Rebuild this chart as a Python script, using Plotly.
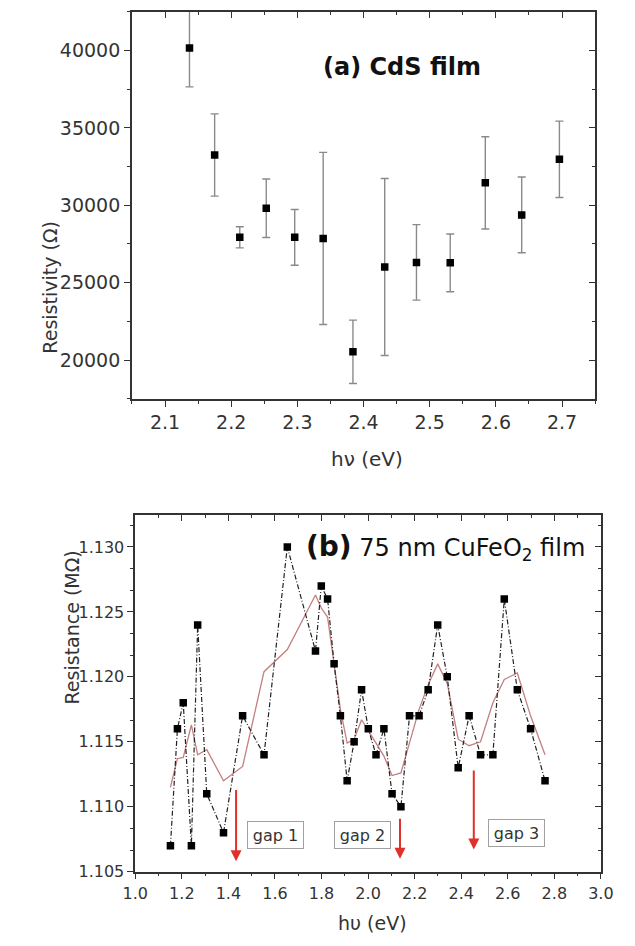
import plotly.graph_objects as go

# ---------------- data ----------------
# (a) CdS film: photon energy vs resistivity with error bars
cds_energy = [2.137, 2.175, 2.213, 2.253, 2.296, 2.339, 2.384, 2.432, 2.480, 2.531, 2.584, 2.639, 2.696]
cds_resistivity = [40170, 33250, 27930, 29810, 27930, 27860, 20530, 26010, 26310, 26280, 31450, 29380, 32970]
cds_error = [2520, 2660, 680, 1890, 1800, 5560, 2050, 5720, 2440, 1870, 2980, 2450, 2470]

# (b) 75 nm CuFeO2 film: photon energy vs resistance
cufeo2_energy = [1.151, 1.181, 1.206, 1.241, 1.268, 1.307, 1.379, 1.461, 1.553, 1.653,
                 1.774, 1.799, 1.826, 1.854, 1.881, 1.910, 1.940, 1.972, 2.001, 2.034,
                 2.068, 2.103, 2.141, 2.178, 2.219, 2.258, 2.299, 2.340, 2.387, 2.434,
                 2.483, 2.536, 2.585, 2.641, 2.698, 2.760]
cufeo2_resistance = [1.107, 1.116, 1.118, 1.107, 1.124, 1.111, 1.108, 1.117, 1.114, 1.130,
                     1.122, 1.127, 1.126, 1.121, 1.117, 1.112, 1.115, 1.119, 1.116, 1.114,
                     1.116, 1.111, 1.110, 1.117, 1.117, 1.119, 1.124, 1.120, 1.113, 1.117,
                     1.114, 1.114, 1.126, 1.119, 1.116, 1.112]
# smoothed curve of the resistance
cufeo2_smoothed = [1.1115, 1.1137, 1.1138, 1.1163, 1.1140, 1.1144, 1.1120, 1.1131, 1.1204, 1.1221,
                   1.1263, 1.1253, 1.1246, 1.1208, 1.1175, 1.1149, 1.1152, 1.1167, 1.1159, 1.1149,
                   1.1139, 1.1124, 1.1126, 1.1149, 1.1175, 1.1194, 1.1210, 1.1195, 1.1152, 1.1147,
                   1.1150, 1.1180, 1.1198, 1.1203, 1.1170, 1.1140]

# band-gap energies marked by arrows
gap_labels = ["gap 1", "gap 2", "gap 3"]
gap_energy = [1.433, 2.137, 2.454]

# ---------------- geometry helpers ----------------
W, H = 635, 946


def px_x(p):
    return p / W


def px_y(p):
    return 1 - p / H


FONT = "DejaVu Sans"
TXT = "#333333"
AX = "#333333"

fig = go.Figure()

# ---- panel (a) ----
fig.add_trace(go.Scatter(
    x=cds_energy, y=cds_resistivity, mode="markers",
    marker=dict(symbol="square", size=7.5, color="black"),
    error_y=dict(type="data", array=cds_error, visible=True,
                 color="#8a8a8a", thickness=1.4, width=4),
    xaxis="x", yaxis="y", showlegend=False,
))
# mirrored axes with inward ticks (top / right)
fig.add_trace(go.Scatter(x=[None], y=[None], xaxis="x3", yaxis="y3",
                         showlegend=False, hoverinfo="skip"))

# ---- panel (b) ----
fig.add_trace(go.Scatter(
    x=cufeo2_energy, y=cufeo2_smoothed, mode="lines",
    line=dict(color="#c47f7f", width=1.3),
    xaxis="x2", yaxis="y2", showlegend=False,
))
fig.add_trace(go.Scatter(
    x=cufeo2_energy, y=cufeo2_resistance, mode="lines+markers",
    line=dict(color="#222222", width=1.2, dash="5px,2px,1px,2px"),
    marker=dict(symbol="square", size=7.5, color="black"),
    xaxis="x2", yaxis="y2", showlegend=False,
))
fig.add_trace(go.Scatter(x=[None], y=[None], xaxis="x4", yaxis="y4",
                         showlegend=False, hoverinfo="skip"))

a_xdom = [px_x(124), px_x(607)]
a_ydom = [px_y(403), px_y(12)]
b_xdom = [px_x(127.5), px_x(613)]
b_ydom = [px_y(881), px_y(520)]

a_xrange = [2.05, 2.75]
a_yrange = [17500, 42500]
b_xrange = [1.0, 3.0]
b_yrange = [1.105, 1.1325]


def base_axis(**kw):
    d = dict(showgrid=False, zeroline=False, showline=True, linewidth=1.6,
             linecolor=AX, tickcolor=AX, tickwidth=1.4, ticklen=6,
             tickfont=dict(family=FONT, size=19, color=TXT))
    d.update(kw)
    return d


fig.update_layout(
    width=W, height=H,
    margin=dict(l=0, r=0, t=0, b=0),
    paper_bgcolor="white", plot_bgcolor="white",
    showlegend=False,
    xaxis=base_axis(domain=a_xdom, range=a_xrange, anchor="y", ticks="outside",
                    dtick=0.1, tick0=0, tickformat=".1f", mirror=True,
                    minor=dict(ticks="outside", ticklen=3, dtick=0.05, tickcolor=AX, tickwidth=1.2)),
    yaxis=base_axis(domain=a_ydom, range=a_yrange, anchor="x", ticks="outside",
                    dtick=5000, tick0=0, tickformat="d", mirror=True,
                    minor=dict(ticks="outside", ticklen=3, dtick=2500, tickcolor=AX, tickwidth=1.2)),
    xaxis3=base_axis(overlaying="x", side="top", anchor="y", range=a_xrange, ticks="inside",
                     dtick=0.1, tick0=0, showticklabels=False, showline=False,
                     minor=dict(ticks="inside", ticklen=3, dtick=0.05, tickcolor=AX, tickwidth=1.2)),
    yaxis3=base_axis(overlaying="y", side="right", anchor="x", range=a_yrange, ticks="inside",
                     dtick=5000, tick0=0, showticklabels=False, showline=False,
                     minor=dict(ticks="inside", ticklen=3, dtick=2500, tickcolor=AX, tickwidth=1.2)),
    xaxis2=base_axis(domain=b_xdom, range=b_xrange, anchor="y2", ticks="outside",
                     dtick=0.2, tick0=0, tickformat=".1f", mirror=True,
                     tickfont=dict(family=FONT, size=16, color=TXT),
                     minor=dict(ticks="outside", ticklen=3, dtick=0.1, tickcolor=AX, tickwidth=1.2)),
    yaxis2=base_axis(domain=b_ydom, range=b_yrange, anchor="x2", ticks="outside",
                     dtick=0.005, tick0=0, tickformat=".3f", mirror=True,
                     tickfont=dict(family=FONT, size=16, color=TXT),
                     minor=dict(ticks="outside", ticklen=3, dtick=0.005 / 3, tickcolor=AX, tickwidth=1.2)),
    xaxis4=base_axis(overlaying="x2", side="top", anchor="y2", range=b_xrange, ticks="inside",
                     dtick=0.2, tick0=0, showticklabels=False, showline=False,
                     minor=dict(ticks="inside", ticklen=3, dtick=0.1, tickcolor=AX, tickwidth=1.2)),
    yaxis4=base_axis(overlaying="y2", side="right", anchor="x2", range=b_yrange, ticks="inside",
                     dtick=0.005, tick0=0, showticklabels=False, showline=False,
                     minor=dict(ticks="inside", ticklen=3, dtick=0.005 / 3, tickcolor=AX, tickwidth=1.2)),
)

ann = []
# axis titles
ann.append(dict(text="Resistivity (Ω)", x=px_x(25), y=px_y(222), xref="paper", yref="paper",
                textangle=-90, showarrow=False, font=dict(family=FONT, size=19, color=TXT)))
ann.append(dict(text="hν (eV)", x=px_x(369), y=px_y(464), xref="paper", yref="paper",
                showarrow=False, font=dict(family=FONT, size=20, color=TXT)))
ann.append(dict(text="Resistance (MΩ)", x=px_x(48), y=px_y(714), xref="paper", yref="paper",
                textangle=-90, showarrow=False, font=dict(family=FONT, size=19, color=TXT)))
ann.append(dict(text="hυ (eV)", x=px_x(375), y=px_y(946), xref="paper", yref="paper",
                yanchor="bottom", showarrow=False, font=dict(family=FONT, size=19, color=TXT)))

# panel titles
ann.append(dict(text="<b>(a) CdS film</b>", x=px_x(490), y=px_y(52), xref="paper", yref="paper",
                showarrow=False, font=dict(family=FONT, size=24, color="#111111")))
ann.append(dict(text='<span style="font-size:28px"><b>(b)</b></span> 75 nm CuFeO<sub>2</sub> film',
                x=px_x(303), y=px_y(553), xref="paper", yref="paper", xanchor="left",
                showarrow=False, font=dict(family=FONT, size=24, color="#111111")))

# gap arrows and labels
arrow_tail = [1.1114, 1.1092, 1.1129]
arrow_tip = [1.1058, 1.1060, 1.1067]
label_pos = [(1.603, 1.1078), (1.977, 1.1078), (2.637, 1.1080)]
for lab, e, t0, t1, (lx, ly) in zip(gap_labels, gap_energy, arrow_tail, arrow_tip, label_pos):
    ann.append(dict(x=e, y=t1, ax=e, ay=t0, xref="x2", yref="y2", axref="x2", ayref="y2",
                    text="", showarrow=True, arrowhead=2, arrowsize=1.1, arrowwidth=2,
                    arrowcolor="#e0302a", standoff=0))
    ann.append(dict(text=lab, x=lx, y=ly, xref="x2", yref="y2", showarrow=False,
                    bordercolor="#a0a0a0", borderwidth=1, borderpad=1, bgcolor="white",
                    width=53, height=24, font=dict(family=FONT, size=16, color=TXT)))

fig.update_layout(annotations=ann)

fig.write_html("out.html")
